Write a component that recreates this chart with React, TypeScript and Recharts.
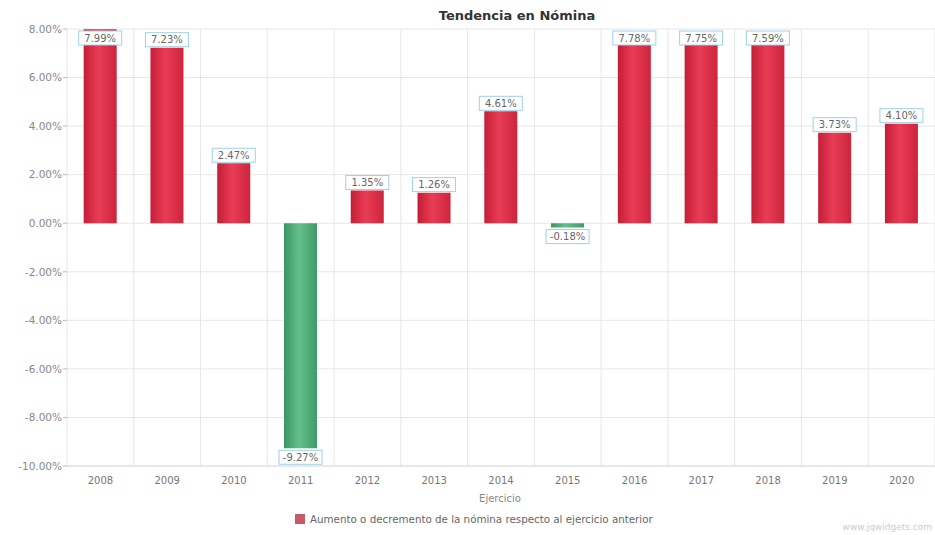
import { BarChart, Bar, XAxis, YAxis, CartesianGrid, Cell, LabelList } from 'recharts'

const years = ['2008', '2009', '2010', '2011', '2012', '2013', '2014', '2015', '2016', '2017', '2018', '2019', '2020']
const changes = [7.99, 7.23, 2.47, -9.27, 1.35, 1.26, 4.61, -0.18, 7.78, 7.75, 7.59, 3.73, 4.1]
const yTicks = [-10, -8, -6, -4, -2, 0, 2, 4, 6, 8]

const data = years.map((year, i) => ({ year, value: changes[i] }))

const W = 935
const H = 535
const M = { top: 29, right: 0, bottom: 0, left: 0 }
const Y_WIDTH = 67
const X_HEIGHT = 69
const font = '"DejaVu Sans", Verdana, sans-serif'

function ValueLabel(props: any) {
  const { x, y, width, height, value } = props
  const top = Math.min(y, y + height)
  const bottom = Math.max(y, y + height)
  const text = `${Number(value).toFixed(2)}%`
  const bw = 43
  const bh = 14
  const bx = x + width / 2 - bw / 2
  let by = value >= 0 ? top - bh - 1 : bottom + 2
  if (by < M.top + 2) by = M.top + 2
  return (
    <g>
      <rect x={bx} y={by} width={bw} height={bh} fill="#fff" stroke="#9fd0ea" strokeWidth={1} />
      <text x={bx + bw / 2} y={by + bh / 2 + 3.5} textAnchor="middle" fontSize={10} fill="#666" fontFamily={font}>
        {text}
      </text>
    </g>
  )
}

export default function App() {
  return (
    <div style={{ position: 'absolute', left: 0, top: 0, width: W, height: H, background: '#fff', fontFamily: font }}>
      <BarChart width={W} height={H} data={data} margin={M} barCategoryGap="25%">
        <defs>
          <linearGradient id="gRed" x1="0" y1="0" x2="1" y2="0">
            <stop offset="0%" stopColor="#c41e36" />
            <stop offset="45%" stopColor="#ea3c55" />
            <stop offset="100%" stopColor="#cc253d" />
          </linearGradient>
          <linearGradient id="gGreen" x1="0" y1="0" x2="1" y2="0">
            <stop offset="0%" stopColor="#3a9463" />
            <stop offset="45%" stopColor="#63c08c" />
            <stop offset="100%" stopColor="#3f9a69" />
          </linearGradient>
        </defs>
        <CartesianGrid
          stroke="#e6e6e6"
          verticalCoordinatesGenerator={({ offset }: any) => {
            const left = offset?.left ?? Y_WIDTH
            const w = offset?.width ?? W - Y_WIDTH
            return years.map((_, i) => left + (i * w) / years.length).concat(left + w)
          }}
        />
        <XAxis
          dataKey="year"
          height={X_HEIGHT}
          tickLine={false}
          axisLine={{ stroke: '#dcdcdc' }}
          tickMargin={5}
          tick={{ fill: '#777', fontSize: 10, fontFamily: font }}
          interval={0}
        />
        <YAxis
          width={Y_WIDTH}
          domain={[-10, 8]}
          ticks={yTicks}
          allowDataOverflow
          tickFormatter={(v: number) => `${v.toFixed(2)}%`}
          axisLine={false}
          tickLine={{ stroke: '#bbb' }}
          tickSize={4}
          tickMargin={1}
          tick={{ fill: '#888', fontSize: 10.5, fontFamily: font }}
        />
        <Bar dataKey="value" isAnimationActive={false}>
          {data.map((d, i) => (
            <Cell key={i} fill={d.value >= 0 ? 'url(#gRed)' : 'url(#gGreen)'} />
          ))}
          <LabelList dataKey="value" content={ValueLabel} />
        </Bar>
        <text x={517} y={20} textAnchor="middle" fontSize={13} fontWeight="bold" fill="#333" fontFamily={font}>
          Tendencia en Nómina
        </text>
        <text x={500} y={502} textAnchor="middle" fontSize={10} fill="#888" fontFamily={font}>
          Ejercicio
        </text>
        <rect x={295} y={514} width={10} height={10} fill="#c85a66" />
        <text x={310} y={523} fontSize={10.3} fill="#666" fontFamily={font}>
          Aumento o decremento de la nómina respecto al ejercicio anterior
        </text>
        <text x={932} y={530} textAnchor="end" fontSize={9} fill="#ccc" fontFamily={font}>
          www.jqwidgets.com
        </text>
      </BarChart>
    </div>
  )
}
